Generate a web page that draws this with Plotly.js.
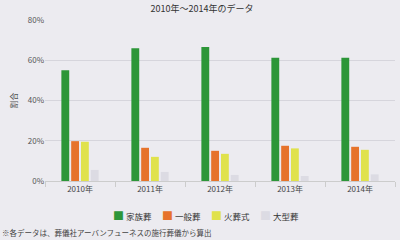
<!DOCTYPE html>
<html><head><meta charset="utf-8">
<script src="https://cdn.plot.ly/plotly-3.0.1.min.js"></script>
<style>html,body{margin:0;padding:0;background:#ecebf0;}#c{width:400px;height:240px;}</style>
</head><body><div id="c"></div>
<script>
const years = ["2010年","2011年","2012年","2013年","2014年"];
const family = [55, 66, 66.6, 61.2, 61.2];
const general = [19.8, 16.5, 15, 17.5, 17];
const cremation = [19.5, 12, 13.5, 16.2, 15.5];
const large = [5.5, 4.5, 3, 2.5, 3.3];
const names = ["家族葬","一般葬","火葬式","大型葬"];
const colors = ["#2d9638","#e6732b","#e0e24c","#dcdbe3"];
const series = [family, general, cremation, large];
const font = "'Noto Sans CJK JP', 'Noto Sans', sans-serif";
const traces = series.map((s,i)=>({type:"bar", x:years, y:s, name:names[i], marker:{color:colors[i]}}));
// legend entries drawn as text with a coloured square glyph
const legendAnns = names.map((n,i)=>({
  text:`<span style="color:${colors[i]};font-size:11px">■</span> ${n}`,
  xref:"paper", yref:"paper", x:(111 - 45 + i*49)/350, y:-0.21,
  xanchor:"left", yanchor:"middle", showarrow:false,
  font:{size:8.5, color:"#333"}
}));
Plotly.newPlot("c", traces, {
  width:400, height:240,
  paper_bgcolor:"#ecebf0", plot_bgcolor:"#ecebf0",
  margin:{l:45, r:5, t:20, b:59, autoexpand:false},
  font:{family:font, size:8, color:"#444"},
  title:{text:"2010年～2014年のデータ", x:0.505, xanchor:"center", y:0.975, yanchor:"top", font:{size:9, color:"#333"}},
  barmode:"group", bargap:0.44, bargroupgap:0.2,
  showlegend:false,
  xaxis:{type:"category", tickson:"boundaries", ticks:"outside", ticklen:5, tickcolor:"#ccc", showline:true, linecolor:"#ccc", showgrid:false, tickfont:{size:8, color:"#444"}},
  yaxis:{range:[0,80], dtick:20, ticksuffix:"%", gridcolor:"#d6d5dc", zeroline:false, tickfont:{size:8, color:"#555"},
         title:{text:"割合", font:{size:8, color:"#555"}, standoff:8}},
  annotations:legendAnns.concat([{text:"※各データは、葬儀社アーバンフューネスの施行葬儀から算出", xref:"paper", yref:"paper", x:-0.128, y:-0.317, xanchor:"left", yanchor:"middle", showarrow:false, font:{size:7.5, color:"#444"}}])
}, {staticPlot:true});
</script></body></html>
